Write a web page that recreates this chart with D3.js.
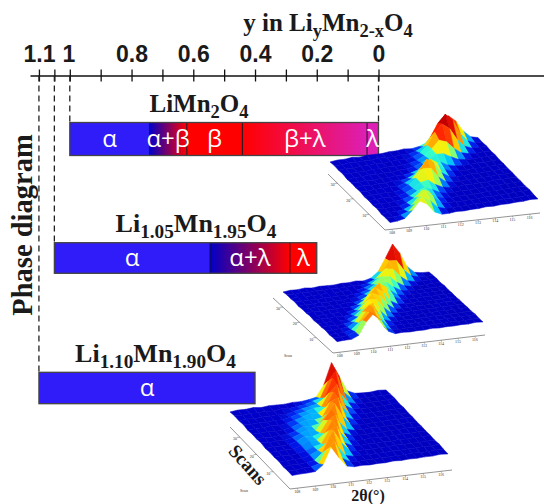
<!DOCTYPE html>
<html>
  <head>
    <meta charset="utf-8">
    <title>Phase diagram</title>
    <script src="https://d3js.org/d3.v7.min.js"></script>
    <style>
      body { margin: 0; background: #fff; }
      svg { display: block; }
      .serif { font-family: "Liberation Serif", serif; font-weight: bold; fill: #1a1a1a; }
      .tickLabel { font-family: "Liberation Sans Narrow", "Liberation Sans", sans-serif; font-weight: bold; font-size: 23px; fill: #1a1a1a; }
      .phase { font-family: "Open Sans", sans-serif; font-size: 24px; fill: #fff; text-anchor: middle; }
      .tiny { font-family: "Liberation Serif", serif; font-size: 4px; fill: #333; text-anchor: middle; }
    </style>
  </head>
  <body>
    <svg id="chart" width="544" height="504"></svg>
    <script>
      // axis values
      const tickValues = [1.1, 1.05, 1, 0.9, 0.8, 0.7, 0.6, 0.5, 0.4, 0.3, 0.2, 0.1, 0];
      const tickLabels = { 1.1: "1.1", 1: "1", 0.8: "0.8", 0.6: "0.6", 0.4: "0.4", 0.2: "0.2", 0: "0" };
      // phase bars: edges in y, one label per segment
      const bar1Edges = [1, 0.742, 0.621, 0.441, 0.037, 0];
      const bar1Phases = ["α", "α+β", "β", "β+λ", "λ"];
      const bar2Edges = [1.05, 0.546, 0.287, 0.2];
      const bar2Phases = ["α", "α+λ", "λ"];
      const bar3Edges = [1.1, 0.4];
      const bar3Phases = ["α"];
      const scanTicks = [10, 20, 30];
      const thetaTicks = [108, 109, 110, 111, 112, 113, 114, 115, 116];
      // surface heights in % of the tallest peak, back row first, 2 theta left to right
      const surface1 = [
        [3,5,4,6,3,5,4,3,5,4,6,3,6,13,32,64,80,62,30,10,4],
        [5,3,6,4,5,3,6,4,3,5,4,8,18,42,78,100,80,40,14,5,3],
        [4,6,3,5,4,6,3,5,6,3,8,16,34,68,88,72,38,15,6,4,5],
        [6,4,5,3,6,4,5,3,4,6,10,20,36,58,50,28,12,6,3,5,3],
        [3,5,4,6,3,5,3,6,5,8,16,24,34,32,20,9,5,3,4,3,5],
        [5,4,6,3,5,3,6,4,6,12,20,26,24,12,6,4,3,5,3,4,3],
        [4,6,3,5,4,6,4,7,16,34,52,38,16,7,4,3,5,3,4,3,4],
        [6,3,5,4,6,3,9,18,38,66,52,22,8,4,3,5,3,4,3,5,3],
        [3,5,4,6,3,7,16,32,56,54,26,9,4,3,5,3,4,3,5,3,4],
        [5,4,6,3,5,10,18,32,36,20,9,4,3,5,3,4,3,5,3,4,3],
        [4,6,3,5,7,12,24,30,22,10,4,3,5,3,4,3,5,3,4,3,4],
        [6,3,5,4,9,20,38,32,14,6,3,5,3,4,3,5,3,4,3,4,3],
        [3,5,4,6,14,36,50,30,10,4,5,3,4,3,5,3,4,3,4,3,5],
        [5,4,6,12,32,48,34,12,5,3,4,3,5,3,4,3,5,3,3,4,3],
        [4,5,9,28,52,40,14,4,3,5,3,4,3,5,3,4,3,4,3,5,3]
      ];
      const surface2 = [
        [3,5,4,6,3,5,4,3,5,4,6,3,8,24,60,100,70,28,8,4,3],
        [5,3,6,4,5,3,6,4,3,5,4,6,14,34,64,62,32,12,5,3,4],
        [4,6,3,5,4,6,3,5,6,3,6,14,30,54,50,26,10,5,3,4,5],
        [6,4,5,3,6,4,5,3,4,6,12,24,44,42,22,9,4,3,3,5,3],
        [3,5,4,6,3,5,3,6,5,12,20,34,38,22,9,5,3,3,4,3,5],
        [5,4,6,3,5,3,6,4,8,18,34,40,26,10,5,4,3,5,3,4,3],
        [4,6,3,5,4,6,4,7,20,46,62,46,18,6,4,3,5,3,4,3,4],
        [6,3,5,4,6,3,6,18,44,62,48,18,6,4,3,5,3,4,3,5,3],
        [3,5,4,6,3,6,14,36,60,50,22,7,4,3,5,3,4,3,5,3,4],
        [5,4,6,3,5,12,28,54,52,26,8,4,3,5,3,4,3,5,3,4,3],
        [4,6,3,5,8,20,44,55,30,9,4,3,5,3,4,3,5,3,4,3,4],
        [6,3,5,6,18,44,62,44,14,6,3,5,3,4,3,5,3,4,3,4,3],
        [3,5,4,9,26,56,65,30,8,4,5,3,4,3,5,3,4,3,4,3,5],
        [5,4,6,14,44,65,48,16,5,3,4,3,5,3,4,3,5,3,3,4,3],
        [4,5,5,14,50,72,50,14,4,5,3,4,3,5,3,4,3,4,3,5,3]
      ];
      const surface3 = [
        [3,5,4,6,3,5,4,3,5,4,6,10,40,100,60,16,6,4,3,5,3],
        [5,3,6,4,5,3,6,4,6,9,15,20,64,90,28,8,4,3,4,3,4],
        [4,6,3,5,4,6,3,8,12,16,20,34,85,40,12,6,3,4,3,4,5],
        [6,4,5,3,6,4,8,14,18,24,24,60,80,20,7,5,3,4,3,5,3],
        [3,5,4,6,3,7,12,18,24,22,36,75,34,10,5,3,4,3,4,3,5],
        [5,4,6,3,5,8,16,24,20,24,64,72,16,6,4,3,5,3,4,3,3],
        [4,6,3,5,5,10,22,18,22,46,72,34,8,5,3,4,3,5,3,4,4],
        [6,3,5,4,8,16,24,18,44,72,34,10,4,3,5,3,4,3,3,5,3],
        [3,5,4,5,10,22,18,24,56,70,16,6,4,3,5,3,4,3,5,3,4],
        [5,4,6,5,12,24,20,36,70,34,10,4,3,5,3,4,3,5,3,4,3],
        [4,6,3,5,10,18,22,56,66,16,6,3,5,3,4,3,5,3,4,3,4],
        [6,3,5,4,10,20,36,70,34,10,3,5,3,4,3,5,3,4,3,4,3],
        [3,5,4,6,8,26,70,38,10,5,5,3,4,3,5,3,4,3,4,3,5],
        [5,4,6,6,12,48,68,18,6,3,4,3,5,3,4,3,5,3,3,4,3],
        [4,5,5,6,22,68,36,9,4,5,3,4,3,5,3,4,3,4,3,5,3]
      ];

      const svg = d3.select("#chart");
      const defs = svg.append("defs");
      defs.append("filter").attr("id", "soft")
        .append("feGaussianBlur").attr("stdDeviation", 0.7);

      // y in LiyMn2-xO4 axis
      const x = d3.scaleLinear().domain([1, 0]).range([69.8, 378.5]);
      x.domain([x.invert(30), x.invert(544)]).range([30, 544]);
      const axisY = 75.5;
      const axis = d3.axisTop(x)
        .tickValues(tickValues)
        .tickSizeOuter(0)
        .tickFormat(function(d) { return tickLabels[d] || ""; });
      const axisGroup = svg.append("g")
        .attr("transform", "translate(0, " + axisY + ")")
        .call(axis);
      axisGroup.select(".domain").attr("stroke", "#111").attr("stroke-width", 1.6);
      axisGroup.selectAll(".tick line")
        .attr("y1", -6).attr("y2", 6)
        .attr("stroke", "#111").attr("stroke-width", 1.3);
      axisGroup.selectAll(".tick text")
        .attr("class", "tickLabel")
        .attr("y", -13.5)
        .attr("dx", function(d) { return d === 1 ? -1.5 : 0; });

      // dashed guides
      const guides = [[1.1, bar3Edges], [1.05, bar2Edges], [1, bar1Edges], [0, bar1Edges]];
      const barRows = [
        { edges: bar1Edges, phases: bar1Phases, id: "bar1", top: 122.5, bottom: 155.5, fills: ["#2f1cf8", "url(#ab)", "#ff0000", "url(#bl)", "#dd1fb4"] },
        { edges: bar2Edges, phases: bar2Phases, id: "bar2", top: 242.7, bottom: 273.3, fills: ["#2f1cf8", "url(#al)", "#ff0000"] },
        { edges: bar3Edges, phases: bar3Phases, id: "bar3", top: 372.3, bottom: 403.7, fills: ["#2f1cf8"] }
      ];
      svg.selectAll(".guide")
        .data(guides)
        .enter().append("line")
          .classed("guide", true)
          .attr("x1", function(d) { return x(d[0]); })
          .attr("x2", function(d) { return x(d[0]); })
          .attr("y1", axisY)
          .attr("y2", function(d) { return barRows.find(function(b) { return b.edges === d[1]; }).top; })
          .attr("stroke", "#222")
          .attr("stroke-width", 1.3)
          .attr("stroke-dasharray", "6 4");

      // gradients for the mixed phases
      function gradient(id, from, to) {
        const g = defs.append("linearGradient").attr("id", id);
        g.append("stop").attr("offset", 0).attr("stop-color", from);
        g.append("stop").attr("offset", 1).attr("stop-color", to);
      }
      gradient("ab", "#0000c8", "#ff0000");
      gradient("bl", "#ff0000", "#dd1fb4");
      gradient("al", "#0000c8", "#ff0000");

      // phase bars
      barRows.forEach(function(row) {
        const segments = row.phases.map(function(p, i) {
          return { phase: p, from: row.edges[i], to: row.edges[i + 1], fill: row.fills[i] };
        });
        const group = svg.append("g").attr("id", row.id);
        group.selectAll("rect")
          .data(segments)
          .enter().append("rect")
            .attr("x", function(d) { return x(d.from); })
            .attr("y", row.top)
            .attr("width", function(d) { return x(d.to) - x(d.from); })
            .attr("height", row.bottom - row.top)
            .attr("fill", function(d) { return d.fill; });
        group.selectAll(".divider")
          .data(row.edges.slice(1, -1))
          .enter().append("line")
            .classed("divider", true)
            .attr("x1", function(d) { return x(d); })
            .attr("x2", function(d) { return x(d); })
            .attr("y1", row.top)
            .attr("y2", row.bottom)
            .attr("stroke", "#1a1020")
            .attr("stroke-width", 1);
        group.append("rect")
          .attr("x", x(row.edges[0]))
          .attr("y", row.top)
          .attr("width", x(row.edges[row.edges.length - 1]) - x(row.edges[0]))
          .attr("height", row.bottom - row.top)
          .attr("fill", "none")
          .attr("stroke", "#444")
          .attr("stroke-width", 1.3);
        group.selectAll(".phase")
          .data(segments)
          .enter().append("text")
            .classed("phase", true)
            .attr("x", function(d) { return (x(d.from) + x(d.to)) / 2; })
            .attr("y", (row.top + row.bottom) / 2 + 8)
            .text(function(d) { return d.phase; });
      });

      // serif titles with subscripts
      function title(parts, px, py, size, anchor) {
        const t = svg.append("text")
          .classed("serif", true)
          .attr("x", px)
          .attr("y", py)
          .attr("text-anchor", anchor || "middle")
          .style("font-size", size + "px");
        let sub = false;
        parts.forEach(function(p, i) {
          const isSub = i % 2 === 1;
          t.append("tspan")
            .attr("dy", (isSub ? size * 0.22 : (sub ? -size * 0.22 : 0)))
            .style("font-size", (isSub ? size * 0.74 : size) + "px")
            .text(p);
          sub = isSub;
        });
        return t;
      }
      title(["y in Li", "y", "Mn", "2-x", "O", "4"], 328, 31, 25);
      title(["LiMn", "2", "O", "4"], 199, 112, 25);
      title(["Li", "1.05", "Mn", "1.95", "O", "4"], 196, 232, 26);
      title(["Li", "1.10", "Mn", "1.90", "O", "4"], 155.5, 362, 26);

      svg.append("text")
        .classed("serif", true)
        .attr("transform", "translate(32, 225) rotate(-90)")
        .attr("text-anchor", "middle")
        .style("font-size", "28.5px")
        .text("Phase diagram");
      svg.append("text")
        .classed("serif", true)
        .attr("transform", "translate(243, 469) rotate(48)")
        .style("font-size", "19px")
        .attr("text-anchor", "middle")
        .text("Scans");
      svg.append("text")
        .classed("serif", true)
        .attr("x", 368)
        .attr("y", 501)
        .attr("text-anchor", "middle")
        .style("font-size", "16px")
        .text("2θ(°)");

      // jet colours
      const jet = d3.scaleLinear()
        .domain([0, 5, 10, 16, 24, 32, 42, 50, 62, 78, 90, 100])
        .range(["#0000a8", "#0000c8", "#0018e8", "#0050ff", "#00c0ff", "#30ffd0", "#b0ff40", "#ffee00", "#ff9000", "#ff2000", "#d00000", "#900000"])
        .clamp(true);

      // base corners of each plot as seen on screen
      const plots = [
        { rows: surface1, left: [330, 163], bottom: [390, 224], right: [538, 200], zPx: 35, axisLeft: [328, 174], axisCorner: [385, 230], axisRight: [540, 213], scan: null },
        { rows: surface2, left: [283, 293], bottom: [337, 343], right: [483, 323], zPx: 34, axisLeft: [273, 298], axisCorner: [333, 353], axisRight: [485, 335], scan: [288, 357] },
        { rows: surface3, left: [230, 413], bottom: [292, 477], right: [448, 455], zPx: 36, axisLeft: [230, 427], axisCorner: [290, 489], axisRight: [452, 470], scan: [244, 492] }
      ];

      plots.forEach(function(plot) {
        const nRows = plot.rows.length;
        const nCols = plot.rows[0].length;
        const uX = d3.scaleLinear().domain([0, nCols - 1]).range([0, plot.right[0] - plot.bottom[0]]);
        const uY = d3.scaleLinear().domain([0, nCols - 1]).range([0, plot.right[1] - plot.bottom[1]]);
        const vX = d3.scaleLinear().domain([nRows - 1, 0]).range([0, plot.left[0] - plot.bottom[0]]);
        const vY = d3.scaleLinear().domain([nRows - 1, 0]).range([0, plot.left[1] - plot.bottom[1]]);
        const z = d3.scaleLinear().domain([0, 100]).range([0, plot.zPx]);
        const project = function(r, c) {
          return [
            plot.bottom[0] + uX(c) + vX(r),
            plot.bottom[1] + uY(c) + vY(r) - z(plot.rows[r][c])
          ];
        };
        const quads = [];
        d3.range(nRows - 1).forEach(function(r) {
          d3.range(nCols - 1).forEach(function(c) {
            const corners = [[r, c], [r, c + 1], [r + 1, c + 1], [r + 1, c]];
            const heights = corners.map(function(k) { return plot.rows[k[0]][k[1]]; });
            quads.push({
              order: plot.bottom[1] + uY(c) + vY(r),
              points: corners.map(function(k) { return project(k[0], k[1]); }),
              level: (d3.max(heights) + d3.mean(heights)) / 2
            });
          });
        });
        quads.sort(function(a, b) { return d3.ascending(a.order, b.order); });
        svg.append("g")
          .attr("filter", "url(#soft)")
          .selectAll("polygon")
          .data(quads)
          .enter().append("polygon")
            .attr("points", function(d) { return d.points.join(" "); })
            .attr("fill", function(d) { return jet(d.level); })
            .attr("stroke", function(d) { return jet(d.level); })
            .attr("stroke-width", 0.5);

        // thin plot axes
        const axes = svg.append("g");
        axes.append("polyline")
          .attr("points", [plot.axisLeft, plot.axisCorner, plot.axisRight].join(" "))
          .attr("fill", "none")
          .attr("stroke", "#666")
          .attr("stroke-width", 0.7);
        const sx = d3.scaleLinear().domain([0, 36]).range([plot.axisCorner[0], plot.axisLeft[0]]);
        const sy = d3.scaleLinear().domain([0, 36]).range([plot.axisCorner[1], plot.axisLeft[1]]);
        const tx = d3.scaleLinear().domain([107.6, 116.6]).range([plot.axisCorner[0], plot.axisRight[0]]);
        const ty = d3.scaleLinear().domain([107.6, 116.6]).range([plot.axisCorner[1], plot.axisRight[1]]);
        axes.selectAll(".scanTick")
          .data(scanTicks)
          .enter().append("text")
            .classed("tiny", true)
            .attr("x", function(d) { return sx(d) - 5; })
            .attr("y", function(d) { return sy(d) + 3; })
            .text(function(d) { return d; });
        axes.selectAll(".scanMark")
          .data(scanTicks)
          .enter().append("line")
            .attr("x1", function(d) { return sx(d); })
            .attr("y1", function(d) { return sy(d); })
            .attr("x2", function(d) { return sx(d) - 3; })
            .attr("y2", function(d) { return sy(d); })
            .attr("stroke", "#666").attr("stroke-width", 0.5);
        axes.selectAll(".thetaTick")
          .data(thetaTicks)
          .enter().append("text")
            .classed("tiny", true)
            .attr("x", function(d) { return tx(d); })
            .attr("y", function(d) { return ty(d) + 4.5; })
            .text(function(d) { return d; });
        axes.selectAll(".thetaMark")
          .data(thetaTicks)
          .enter().append("line")
            .attr("x1", function(d) { return tx(d); })
            .attr("y1", function(d) { return ty(d); })
            .attr("x2", function(d) { return tx(d) + 0.5; })
            .attr("y2", function(d) { return ty(d) + 1.5; })
            .attr("stroke", "#666").attr("stroke-width", 0.5);
        if (plot.scan) {
          axes.append("text")
            .classed("tiny", true)
            .attr("x", plot.scan[0])
            .attr("y", plot.scan[1])
            .text("Scan");
        }
      });
    </script>
  </body>
</html>
